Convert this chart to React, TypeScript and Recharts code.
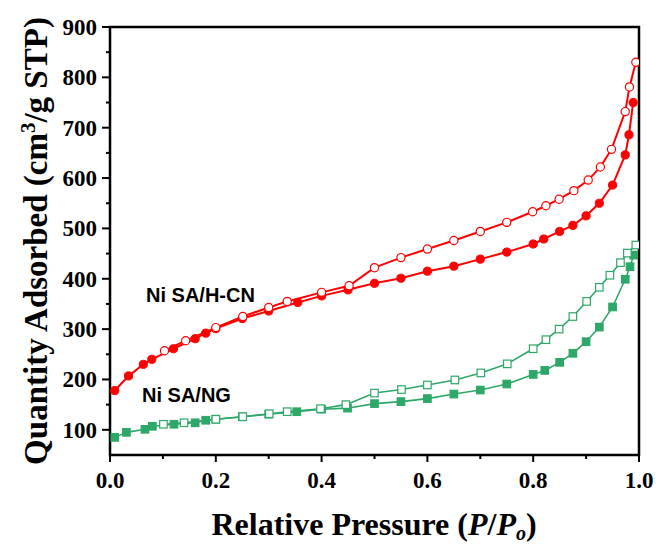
import { LineChart, Line, XAxis, YAxis, ReferenceArea } from 'recharts';

// Ni SA/H-CN, adsorption branch (filled circles)
const hcnAdsP = [0.009, 0.035, 0.063, 0.079, 0.12, 0.161, 0.181, 0.2, 0.25, 0.3, 0.355, 0.4, 0.45, 0.5, 0.55, 0.6, 0.65, 0.7, 0.75, 0.8, 0.82, 0.85, 0.875, 0.9, 0.925, 0.95, 0.974, 0.981, 0.989];
const hcnAdsQ = [178, 207, 230, 240, 261, 281, 292, 301, 321, 336, 353, 366, 378, 391, 401, 415, 425, 439, 453, 469, 479, 494, 506, 525, 550, 586, 646, 686, 750];

// Ni SA/H-CN, desorption branch (open circles)
const hcnDesP = [0.994, 0.982, 0.974, 0.948, 0.927, 0.904, 0.877, 0.849, 0.824, 0.799, 0.75, 0.7, 0.65, 0.6, 0.55, 0.5, 0.452, 0.4, 0.335, 0.3, 0.251, 0.2, 0.143, 0.103];
const hcnDesQ = [830, 781, 732, 657, 622, 596, 575, 558, 545, 533, 512, 494, 476, 459, 442, 422, 386, 373, 355, 343, 325, 303, 277, 257];

// Ni SA/NG, adsorption branch (filled squares)
const ngAdsP = [0.009, 0.031, 0.066, 0.08, 0.121, 0.161, 0.181, 0.2, 0.25, 0.3, 0.353, 0.4, 0.449, 0.5, 0.55, 0.6, 0.65, 0.7, 0.75, 0.8, 0.822, 0.85, 0.875, 0.9, 0.925, 0.95, 0.974, 0.983, 0.99];
const ngAdsQ = [85, 95, 101, 107, 111, 114, 119, 121, 126, 131, 136, 141, 143, 152, 156, 162, 171, 179, 191, 210, 218, 234, 252, 275, 304, 344, 399, 424, 447];

// Ni SA/NG, desorption branch (open squares)
const ngDesP = [0.994, 0.978, 0.965, 0.945, 0.925, 0.901, 0.875, 0.849, 0.824, 0.8, 0.751, 0.701, 0.652, 0.6, 0.551, 0.5, 0.446, 0.398, 0.335, 0.301, 0.251, 0.2, 0.14, 0.101];
const ngDesQ = [467, 451, 432, 407, 383, 355, 325, 300, 279, 261, 231, 213, 199, 189, 180, 173, 150, 142, 136, 132, 126, 121, 114, 111];

const xTicks = [0, 0.1, 0.2, 0.3, 0.4, 0.5, 0.6, 0.7, 0.8, 0.9, 1.0];
const yTicks = [100, 150, 200, 250, 300, 350, 400, 450, 500, 550, 600, 650, 700, 750, 800, 850, 900];

const RED = '#ff0000';
const GREEN = '#2ea868';
const SERIF = '"Liberation Serif", "Times New Roman", serif';
const SANS = '"Liberation Sans", Arial, sans-serif';

const toRows = (p: number[], q: number[]) => p.map((v, i) => ({ p: v, q: q[i] }));

const hcnAds = toRows(hcnAdsP, hcnAdsQ);
const hcnDes = toRows(hcnDesP, hcnDesQ);
const ngAds = toRows(ngAdsP, ngAdsQ);
const ngDes = toRows(ngDesP, ngDesQ);

function XTick(props: any) {
    const { x, y, payload } = props;
    const v = payload.value as number;
    const major = Math.round(v * 10) % 2 === 0;
    return (
        <g>
            <line x1={x} x2={x} y1={y} y2={y + (major ? 7 : 4)} stroke="#000" strokeWidth={2} />
            {major && (
                <text x={x} y={y + 33} textAnchor="middle" fontFamily={SERIF} fontWeight="bold" fontSize={23} fill="#000">
                    {v.toFixed(1)}
                </text>
            )}
        </g>
    );
}

function YTick(props: any) {
    const { x, y, payload } = props;
    const v = payload.value as number;
    const major = v % 100 === 0;
    return (
        <g>
            <line x1={x - (major ? 8 : 4)} x2={x} y1={y} y2={y} stroke="#000" strokeWidth={2} />
            {major && (
                <text x={x - 13} y={y + 8} textAnchor="end" fontFamily={SERIF} fontWeight="bold" fontSize={23} fill="#000">
                    {v}
                </text>
            )}
        </g>
    );
}

const square = (fill: string) => (props: any) => {
    const { cx, cy, index } = props;
    const s = 7.5;
    return (
        <rect key={index} x={cx - s / 2} y={cy - s / 2} width={s} height={s} fill={fill} stroke={GREEN} strokeWidth={1.2} />
    );
};

export default function App() {
    return (
        <div style={{ position: 'absolute', left: 0, top: 0, width: 660, height: 546, background: '#fff' }}>
            <LineChart width={660} height={546} margin={{ top: 27, right: 21, left: 0, bottom: 0 }}>
                <XAxis
                    type="number"
                    dataKey="p"
                    domain={[0, 1]}
                    ticks={xTicks}
                    interval={0}
                    height={91}
                    tickSize={0}
                    tickMargin={0}
                    tickLine={false}
                    axisLine={false}
                    tick={<XTick />}
                    allowDataOverflow
                />
                <YAxis
                    type="number"
                    dataKey="q"
                    domain={[50, 900]}
                    ticks={yTicks}
                    interval={0}
                    width={110}
                    tickSize={0}
                    tickMargin={0}
                    tickLine={false}
                    axisLine={false}
                    tick={<YTick />}
                    allowDataOverflow
                />
                <ReferenceArea x1={0} x2={1} y1={50} y2={900} fill="none" stroke="#000" strokeWidth={2.5} />
                <Line data={ngAds} dataKey="q" stroke={GREEN} strokeWidth={1.6} dot={square(GREEN)} isAnimationActive={false} />
                <Line data={ngDes} dataKey="q" stroke={GREEN} strokeWidth={1.6} dot={square('#fff')} isAnimationActive={false} />
                <Line
                    data={hcnAds}
                    dataKey="q"
                    stroke={RED}
                    strokeWidth={2}
                    dot={{ r: 4.1, fill: RED, stroke: RED, strokeWidth: 1 }}
                    isAnimationActive={false}
                />
                <Line
                    data={hcnDes}
                    dataKey="q"
                    stroke={RED}
                    strokeWidth={2}
                    dot={{ r: 4.1, fill: '#fff', stroke: RED, strokeWidth: 1.2 }}
                    isAnimationActive={false}
                />
            </LineChart>

            {/* titles and series labels */}
            <svg width={660} height={546} style={{ position: 'absolute', left: 0, top: 0, pointerEvents: 'none' }}>
                <text x={146} y={302} fontFamily={SANS} fontWeight="bold" fontSize={20} fill="#000">Ni SA/H-CN</text>
                <text x={142} y={402} fontFamily={SANS} fontWeight="bold" fontSize={20} fill="#000">Ni SA/NG</text>
                <text x={374} y={535} textAnchor="middle" fontFamily={SERIF} fontWeight="bold" fontSize={32} fill="#000">
                    Relative Pressure (<tspan fontStyle="italic">P</tspan>/<tspan fontStyle="italic">P</tspan>
                    <tspan fontStyle="italic" fontSize={20} dy={5}>o</tspan>
                    <tspan dy={-5}>)</tspan>
                </text>
                <text
                    x={47}
                    y={241}
                    transform="rotate(-90, 47, 241)"
                    textAnchor="middle"
                    fontFamily={SERIF}
                    fontWeight="bold"
                    fontSize={33}
                    fill="#000"
                >
                    Quantity Adsorbed (cm<tspan fontSize={21} dy={-12}>3</tspan>
                    <tspan dy={12}>/g STP)</tspan>
                </text>
            </svg>
        </div>
    );
}
